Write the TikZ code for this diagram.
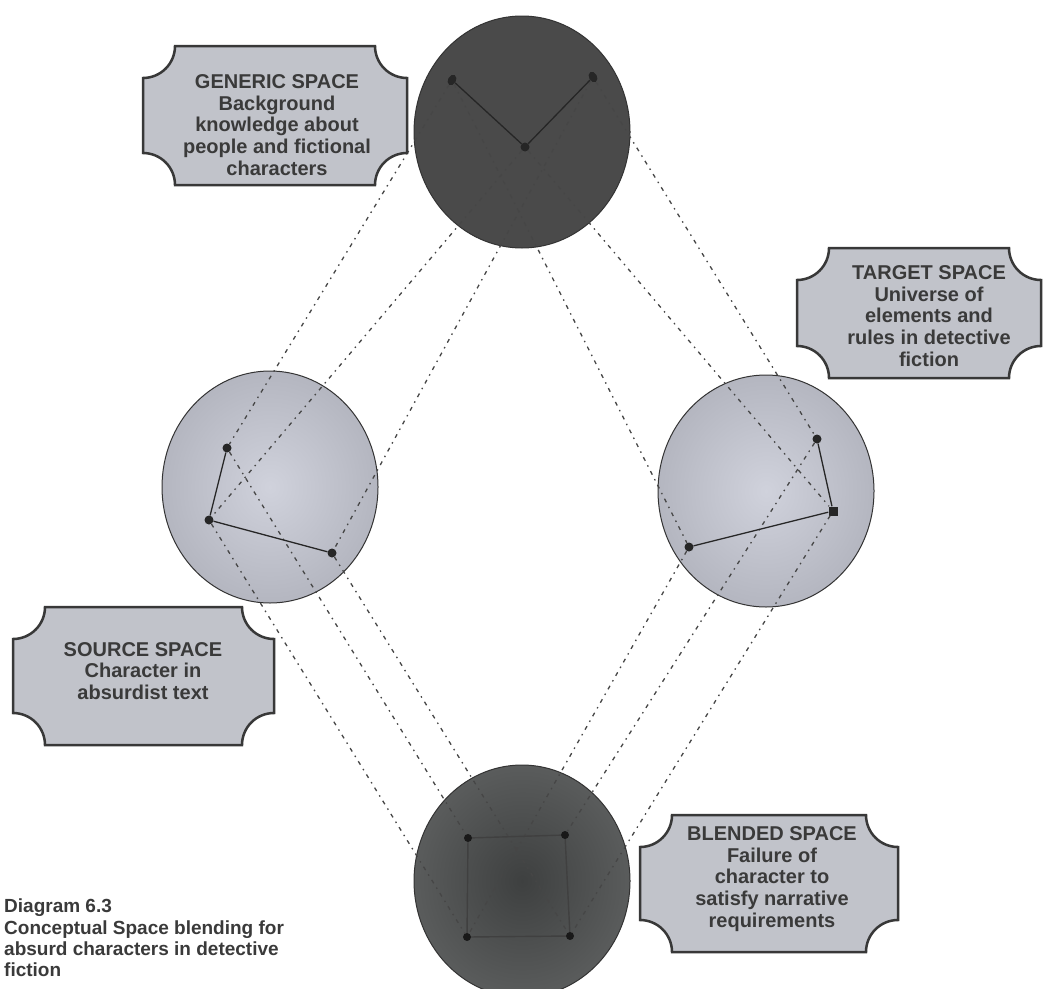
\documentclass[tikz,border=0pt]{standalone}
\usepackage{fontspec}
\setmainfont{Liberation Sans}
\usetikzlibrary{shapes.geometric}
\definecolor{boxfill}{HTML}{C1C3CA}
\definecolor{boxline}{HTML}{383838}
\definecolor{txt}{HTML}{3A3A3A}
\definecolor{darkfill}{HTML}{4A4A4A}
\definecolor{lightin}{HTML}{D0D2DC}
\definecolor{lightout}{HTML}{B4B6C0}
\definecolor{blendin}{HTML}{3E4040}
\definecolor{blendout}{HTML}{5A5C5C}
\definecolor{mapcol}{HTML}{464646}
\newcommand{\plaque}[4]{%
  \draw[plaquestyle] (#1+32,#2) -- (#3-32,#2)
    arc[start angle=180,end angle=90,radius=32] -- (#3,#4-32)
    arc[start angle=-90,end angle=-180,radius=32] -- (#1+32,#4)
    arc[start angle=0,end angle=-90,radius=32] -- (#1,#2+32)
    arc[start angle=90,end angle=0,radius=32] -- cycle;}
\begin{document}
\begin{tikzpicture}[x=1pt,y=-1pt,
  space/.style={ellipse, draw=black!80, line width=1pt, minimum width=216pt, minimum height=232pt, inner sep=0pt},
  darkspace/.style={space, fill=darkfill},
  lightspace/.style={space, inner color=lightin, outer color=lightout},
  blendspace/.style={space, inner color=blendin, outer color=blendout},
  gdot/.style={ellipse, fill=black!85, minimum width=8pt, minimum height=11pt, inner sep=0pt},
  sdot/.style={circle, fill=black!85, minimum size=9pt, inner sep=0pt},
  sqdot/.style={rectangle, fill=black!85, minimum size=9pt, inner sep=0pt},
  bdot/.style={circle, fill=black!90, minimum size=8pt, inner sep=0pt},
  map/.style={draw=mapcol, line width=1.3pt, dash pattern=on 4pt off 5pt on 1.5pt off 5pt},
  link/.style={draw=black!85, line width=1.3pt},
  blink/.style={draw=black!75, line width=1.4pt},
  plaquestyle/.style={draw=boxline, line width=2.5pt, fill=boxfill},
  lbl/.style={font=\bfseries\fontsize{20}{21.7}\selectfont, text=txt, align=center, inner sep=0pt},
  captext/.style={font=\bfseries\fontsize{19}{21.3}\selectfont, text=txt, align=left, inner sep=0pt, anchor=north west}
]
\useasboundingbox (0,0) rectangle (1043,988);
\clip (0,0) rectangle (1043,988);
\fill[white] (0,0) rectangle (1043,988);

% spaces
\node[darkspace] (gen) at (522,132) {};
\node[lightspace] (src) at (270,487) {};
\node[lightspace] (tgt) at (766,491) {};
\node[blendspace] (bld) at (522,881) {};

% dots
\node[gdot, rotate=-30] (g1) at (452,80) {};
\node[sdot] (g2) at (525,147) {};
\node[gdot, rotate=30] (g3) at (593,77) {};
\node[sdot] (s1) at (227,448) {};
\node[sdot] (s2) at (209,520) {};
\node[sdot] (s3) at (332,553) {};
\node[sdot] (t1) at (817,439) {};
\node[sqdot] (t2) at (833,511) {};
\node[sdot] (t3) at (689,547) {};
\node[bdot] (b1) at (468,838) {};
\node[bdot] (b2) at (565,835) {};
\node[bdot] (b3) at (467,937) {};
\node[bdot] (b4) at (570,936) {};

% mapping connectors
\draw[map] (g1) -- (s1);
\draw[map] (g2) -- (s2);
\draw[map] (g3) -- (s3);
\draw[map] (g3) -- (t1);
\draw[map] (g2) -- (t2);
\draw[map] (g1) -- (t3);
\draw[map] (s2) -- (b3);
\draw[map] (s1) -- (b1);
\draw[map] (s3) -- (b4);
\draw[map] (t3) -- (b3);
\draw[map] (t1) -- (b2);
\draw[map] (t2) -- (b4);

% links inside spaces
\draw[link] (g1) -- (g2) -- (g3);
\draw[link] (s1) -- (s2) -- (s3);
\draw[link] (t1) -- (t2) -- (t3);
\draw[blink] (b1) -- (b2) -- (b4) -- (b3) -- (b1);

% plaques
\plaque{143}{46}{407}{185}
\plaque{797}{248}{1041}{378}
\plaque{13}{607}{274}{745}
\plaque{640}{815}{898}{952}

\node[lbl] (lgen) at (277,125) {GENERIC SPACE\\Background\\knowledge about\\people and fictional\\characters};
\node[lbl] (ltgt) at (929,316) {TARGET SPACE\\Universe of\\elements and\\rules in detective\\fiction};
\node[lbl] (lsrc) at (143,671) {SOURCE SPACE\\Character in\\absurdist text};
\node[lbl] (lbld) at (772,879) {BLENDED SPACE\\Failure of\\character to\\satisfy narrative\\requirements};

\node[captext] (caption) at (4,899) {Diagram 6.3\\Conceptual Space blending for\\absurd characters in detective\\fiction};
\end{tikzpicture}
\end{document}
